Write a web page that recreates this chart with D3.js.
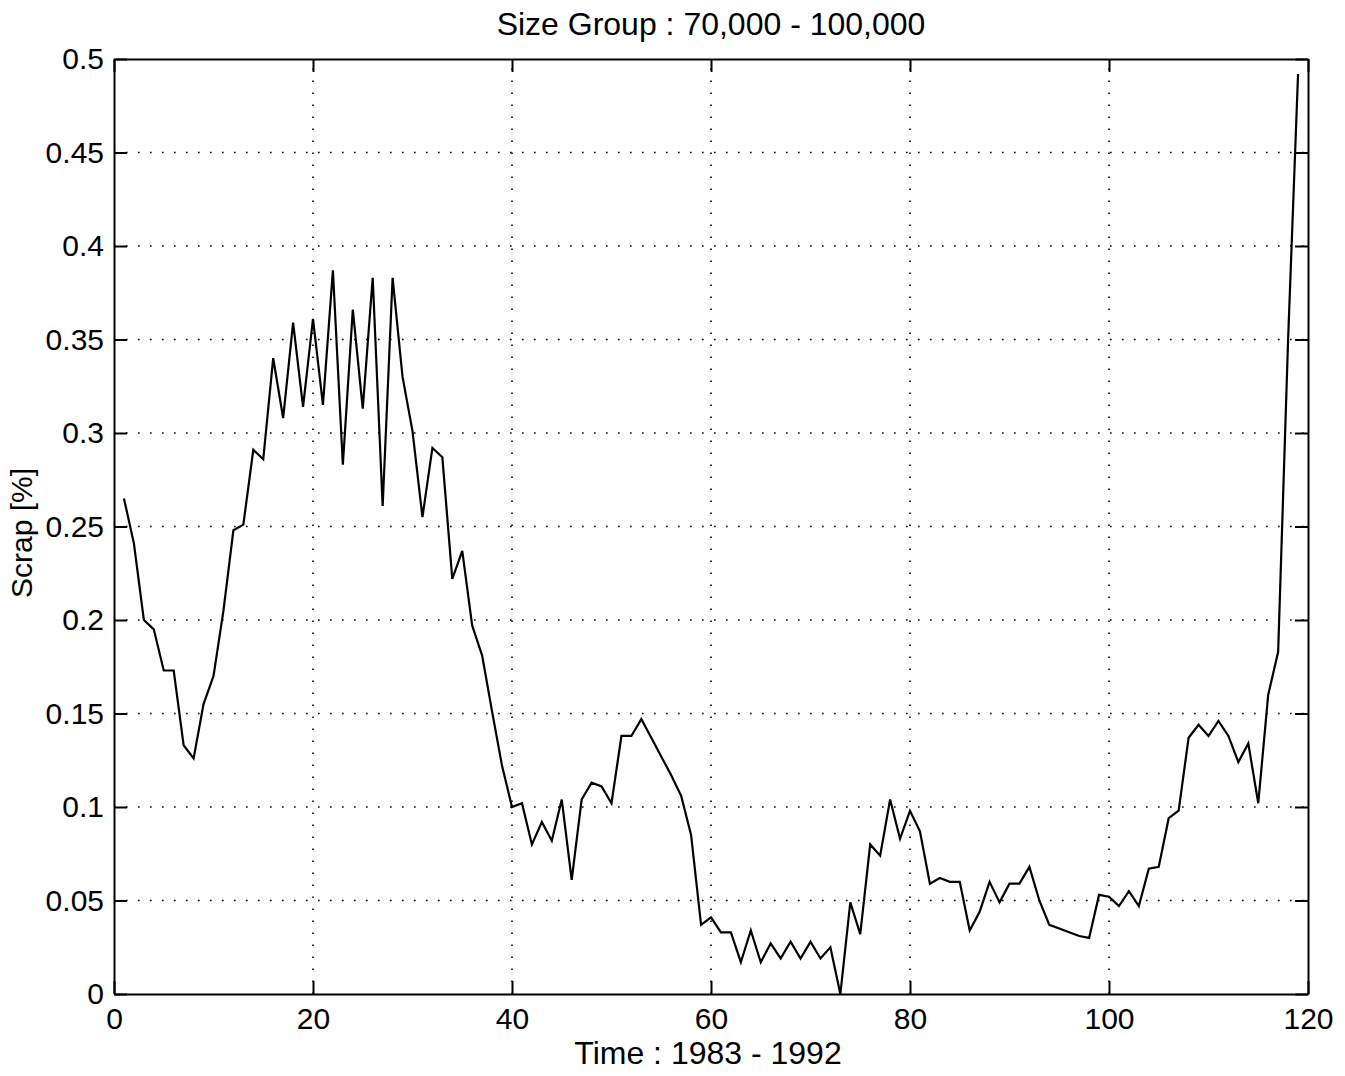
<!DOCTYPE html>
<html>
<head>
<meta charset="utf-8">
<script src="https://cdn.jsdelivr.net/npm/d3@7"></script>
<style>
  html, body { margin: 0; padding: 0; background: #fff; }
  svg { display: block; font-family: "Liberation Sans", Arial, Helvetica, sans-serif; }
</style>
</head>
<body>
<svg id="chart" width="1345" height="1076"></svg>
<script>
// Monthly scrap rate, size group 70,000 - 100,000 (months 1..119, 1983-1992)
const months = d3.range(1, 120);
const scrap = [
  0.265, 0.241, 0.200, 0.195, 0.173, 0.173, 0.133, 0.126, 0.155, 0.170,
  0.205, 0.248, 0.251, 0.291, 0.286, 0.340, 0.308, 0.359, 0.314, 0.361,
  0.315, 0.387, 0.283, 0.366, 0.313, 0.383, 0.261, 0.383, 0.330, 0.301,
  0.255, 0.292, 0.287, 0.222, 0.237, 0.197, 0.181, 0.151, 0.122, 0.100,
  0.102, 0.080, 0.092, 0.082, 0.104, 0.061, 0.104, 0.113, 0.111, 0.102,
  0.138, 0.138, 0.147, 0.137, 0.127, 0.117, 0.106, 0.085, 0.037, 0.041,
  0.033, 0.033, 0.017, 0.034, 0.017, 0.027, 0.019, 0.028, 0.019, 0.028,
  0.019, 0.025, 0.000, 0.049, 0.032, 0.080, 0.074, 0.104, 0.083, 0.098,
  0.087, 0.059, 0.062, 0.060, 0.060, 0.034, 0.044, 0.060, 0.049, 0.059,
  0.059, 0.068, 0.050, 0.037, 0.035, 0.033, 0.031, 0.030, 0.053, 0.052,
  0.047, 0.055, 0.047, 0.067, 0.068, 0.094, 0.098, 0.137, 0.144, 0.138,
  0.146, 0.138, 0.124, 0.134, 0.102, 0.160, 0.183, 0.350, 0.492
];
const xTicks = [0, 20, 40, 60, 80, 100, 120];
const yTicks = [0, 0.05, 0.1, 0.15, 0.2, 0.25, 0.3, 0.35, 0.4, 0.45, 0.5];
const yTickLabels = ["0", "0.05", "0.1", "0.15", "0.2", "0.25", "0.3", "0.35", "0.4", "0.45", "0.5"];
const titleText = "Size Group : 70,000 - 100,000";
const xLabel = "Time : 1983 - 1992";
const yLabel = "Scrap [%]";

const svg = d3.select("#chart");
const plotLeft = 114, plotRight = 1308, plotTop = 59, plotBottom = 994;

const x = d3.scaleLinear().domain([0, 120]).range([plotLeft, plotRight]);
const y = d3.scaleLinear().domain([0, 0.5]).range([plotBottom, plotTop]);

// dotted grid
const grid = svg.append("g")
  .attr("stroke", "#000")
  .attr("stroke-width", 1.6)
  .attr("stroke-dasharray", "1.6,10.4");
grid.selectAll(".gx").data(xTicks.slice(1, -1)).join("line")
  .attr("x1", d => x(d)).attr("x2", d => x(d))
  .attr("y1", plotBottom).attr("y2", plotTop);
grid.selectAll(".gy").data(yTicks.slice(1, -1)).join("line")
  .attr("x1", plotLeft).attr("x2", plotRight)
  .attr("y1", d => y(d)).attr("y2", d => y(d));

// axes with inward ticks on all four sides
const tickFont = 30;
function styleAxis(g) {
  g.attr("font-family", null).attr("font-size", null);
  g.selectAll("path").attr("stroke", "#000").attr("stroke-width", 2);
  g.selectAll("line").attr("stroke", "#000").attr("stroke-width", 2);
  g.selectAll("text").attr("fill", "#000").style("font-size", tickFont + "px");
}
svg.append("g").attr("transform", `translate(0,${plotBottom})`)
  .call(d3.axisBottom(x).tickValues(xTicks).tickFormat(d3.format("d"))
    .tickSizeInner(-13).tickSizeOuter(0).tickPadding(14))
  .call(styleAxis);
svg.append("g").attr("transform", `translate(0,${plotTop})`)
  .call(d3.axisTop(x).tickValues(xTicks).tickFormat("")
    .tickSizeInner(-13).tickSizeOuter(0))
  .call(styleAxis);
svg.append("g").attr("transform", `translate(${plotLeft},0)`)
  .call(d3.axisLeft(y).tickValues(yTicks).tickFormat((d, i) => yTickLabels[i])
    .tickSizeInner(-13).tickSizeOuter(0).tickPadding(10))
  .call(styleAxis);
svg.append("g").attr("transform", `translate(${plotRight},0)`)
  .call(d3.axisRight(y).tickValues(yTicks).tickFormat("")
    .tickSizeInner(-13).tickSizeOuter(0))
  .call(styleAxis);

// series line
const line = d3.line().x((d, i) => x(months[i])).y(d => y(d));
svg.append("path")
  .datum(scrap)
  .attr("fill", "none")
  .attr("stroke", "#000")
  .attr("stroke-width", 2.2)
  .attr("stroke-linejoin", "miter")
  .attr("d", line);

// titles
svg.append("text")
  .attr("x", (plotLeft + plotRight) / 2).attr("y", 35)
  .attr("text-anchor", "middle")
  .style("font-size", "32px")
  .text(titleText);
svg.append("text")
  .attr("x", (plotLeft + plotRight) / 2 - 3).attr("y", 1064)
  .attr("text-anchor", "middle")
  .style("font-size", "32px")
  .text(xLabel);
svg.append("text")
  .attr("transform", `translate(32,533) rotate(-90)`)
  .attr("text-anchor", "middle")
  .style("font-size", "30px")
  .text(yLabel);
</script>
</body>
</html>
